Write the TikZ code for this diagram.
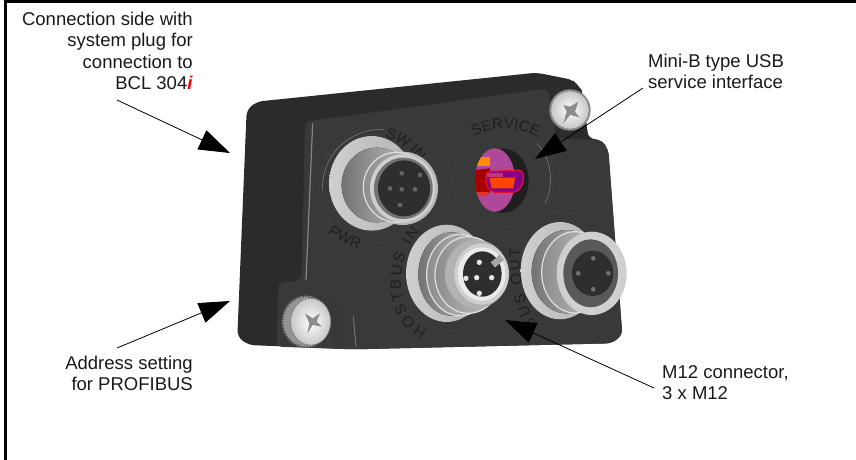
\documentclass[tikz,border=0pt]{standalone}
\usepackage{fontspec}
\setmainfont{Liberation Sans}
\usepackage{xcolor}
\usetikzlibrary{arrows.meta, decorations.text}
\definecolor{bodyside}{HTML}{2B2B2B}
\definecolor{bodyface}{HTML}{393939}
\definecolor{rimlight}{HTML}{CFCFCD}
\definecolor{barrel}{HTML}{8A8A8A}
\definecolor{pinkhole}{HTML}{B0489A}
\definecolor{usbred}{HTML}{E2102C}
\newcommand{\panelfont}{\fontsize{15}{15}\selectfont\color{black!88}}
\begin{document}
\begin{tikzpicture}[x=1pt, y=-1pt,
    caption/.style={font=\fontsize{18.5}{21.2}\selectfont, inner sep=0pt, text=black!90},
    callout/.style={-{Triangle[length=31pt, width=21pt]}, line width=0.8pt},
    frameline/.style={line width=3pt, black},
    ringline/.style={line width=0.7pt, black!75},
    ringshine/.style={line width=0.5pt, black!50},
    flange/.style={draw=none, left color=rimlight, right color=black!30},
    cone/.style={draw=none, left color=black!55, right color=black!25},
    groove/.style={draw=black!12, line width=1.2pt, left color=black!45, right color=black!22},
    tip/.style={draw=none, fill=rimlight},
    pin/.style={draw=none, fill=white!90!black},
    socket/.style={draw=none, fill=black!82},
    screwhead/.style={draw=black!45, line width=0.5pt, inner color=white, outer color=black!22},
    screwcross/.style={draw=none, fill=black!45}
  ]
  \useasboundingbox (0,0) rectangle (856,460);
  % Frame, only top and left
  \coordinate (FrameTR) at (856,2);
  \coordinate (FrameTL) at (5,2);
  \coordinate (FrameBL) at (5,460);
  \draw[frameline] (FrameTR) -- (FrameTL) -- (FrameBL);

  % Device, drawn in units of a third of a pixel
  \begin{scope}[shift={(220,60)}, xscale=1/3, yscale=1/3]
    % Housing
    \fill[bodyside, rounded corners=6pt] (80,150) -- (110,125) -- (950,38) -- (1060,60) -- (1085,90) -- (1105,235)
      -- (1145,240) -- (1165,270) -- (1207,825) -- (1175,850) -- (400,868) -- (85,855)
      -- (52,830) -- cycle;
    \fill[bodyface, rounded corners=5pt] (255,185) -- (985,85) -- (1010,235) -- (1145,240)
      -- (1165,270) -- (1207,825) -- (1175,850) -- (400,868) -- (170,860) -- (175,668)
      -- (245,660) -- cycle;
    \shade[left color=black!78, right color=bodyface] (335,700) -- (395,780) -- (405,866) -- (340,866) -- cycle;
    \fill[bodyside] (985,85) -- (1060,62) -- (1085,90) -- (1105,235) -- (1010,235) -- cycle;
    \draw[black!48, line width=1.2pt] (278,190) -- (258,660);
    \draw[black!55, line width=1pt] (400,770) -- (408,860);

    % Panel rings and labels
    \draw[ringline] (490,198) .. controls (380,195) and (290,280) .. (297,390) .. controls (300,440) and (320,480) .. (345,505);
    \draw[ringshine] (490,208) .. controls (390,205) and (303,285) .. (308,390);
    \draw[ringline] (445,552) .. controls (490,552) and (570,525) .. (600,500);
    \draw[ringline] (745,240) .. controls (690,290) and (680,400) .. (730,450);
    \draw[ringline] (960,245) .. controls (1010,300) and (1010,380) .. (985,435);
    \draw[ringshine] (950,250) .. controls (1000,300) and (1000,380) .. (975,430);
    \draw[ringline] (790,500) .. controls (850,510) and (930,490) .. (975,450);
    \draw[ringline] (640,465) .. controls (670,460) and (700,462) .. (725,475);
    \draw[ringline] (830,540) .. controls (850,530) and (870,525) .. (890,525);
    \draw[ringline] (1000,460) .. controls (1050,450) and (1110,470) .. (1140,500);
    \draw[ringline] (630,815) .. controls (680,820) and (730,805) .. (770,775);
    \draw[ringline] (945,790) .. controls (990,815) and (1050,810) .. (1110,785);
    \path[decorate, decoration={text along path, text align=center,
      text={|\panelfont|SERVICE}}]
      (745,245) .. controls (800,192) and (900,192) .. (970,245);
    \path[decorate, decoration={text along path, text align=left,
      text={|\panelfont|SW IN}}]
      (495,232) .. controls (530,240) and (570,265) .. (610,320);
    \path[decorate, decoration={text along path, text align=center,
      text={|\panelfont|PWR}}]
      (312,510) .. controls (340,535) and (390,560) .. (430,572);

    % Connector SW IN / PWR
    \fill[flange] (455,370) ellipse (128 and 142);
    \fill[cone] (470,375) ellipse (105 and 112);
    \fill[black!28] (548,385) ellipse (106 and 110);
    \fill[groove] (530,382) ellipse (100 and 105);
    \fill[tip] (548,385) ellipse (98 and 102);
    \fill[black!55] (550,385) ellipse (88 and 92);
    \fill[socket] (552,385) ellipse (78 and 84);
    \foreach \pinx/\piny in {545/340, 600/345, 510/385, 545/388, 585/388, 540/435}
      \fill[black!60] (\pinx,\piny) circle (7);

    % Service opening
    \fill[black!88] (848,362) ellipse (78 and 97);
    \fill[pinkhole] (825,360) ellipse (60 and 95);
    \begin{scope}
      \clip (825,360) ellipse (60 and 95);
      \fill[orange!90!yellow] (770,290) rectangle (810,318);
      \fill[red!65!black] (760,330) -- (810,325) -- (810,398) -- (760,395) -- cycle;
      \fill[usbred!70!orange] (770,396) rectangle (805,408);
    \end{scope}
    \fill[violet!70!magenta!80!black, draw=usbred, line width=1.3pt, rounded corners=4pt]
      (798,335) -- (908,330) -- (912,365) -- (892,397) -- (815,397) -- (798,375) -- cycle;
    \fill[pinkhole!70!usbred] (800,338) -- (850,338) -- (850,352) -- (800,352) -- cycle;
    \fill[orange!55!red] (808,353) -- (885,353) -- (880,385) -- (815,385) -- cycle;

    % Connector HOSTBUS IN
    \fill[flange] (680,640) ellipse (122 and 146);
    \fill[cone] (695,642) ellipse (100 and 125);
    \fill[groove] (720,645) ellipse (100 and 122);
    \fill[groove] (745,645) ellipse (100 and 115);
    \fill[black!30] (770,642) ellipse (95 and 102);
    \fill[tip] (785,642) ellipse (82 and 92);
    \fill[white!92!black] (785,642) ellipse (72 and 80);
    \fill[socket] (787,642) ellipse (58 and 68);
    \foreach \pinx/\piny in {778/607, 738/655, 770/653, 815/653, 778/700}
      \fill[pin] (\pinx,\piny) circle (8);
    \fill[black!35, rotate around={40:(830,605)}] (815,595) rectangle (850,615);

    % Connector BUS OUT
    \fill[flange] (1020,632) ellipse (118 and 146);
    \fill[cone] (1040,635) ellipse (105 and 125);
    \fill[groove] (1065,637) ellipse (100 and 122);
    \fill[tip] (1115,640) ellipse (105 and 125);
    \fill[black!18] (1115,640) ellipse (92 and 112);
    \fill[black!65] (1112,640) ellipse (82 and 102);
    \fill[socket] (1118,640) ellipse (62 and 68);
    \foreach \pinx/\piny in {1120/595, 1075/640, 1165/640, 1120/688}
      \fill[black!55] (\pinx,\piny) circle (7);

    % Labels between the connectors
    \path[decorate, decoration={text along path, text align=fit to path,
      text={|\panelfont|HOSTBUS IN}}]
      (622,812) .. controls (525,770) and (515,610) .. (600,515);
    \path[decorate, decoration={text along path, text align=fit to path,
      text={|\panelfont|BUS OUT}}]
      (952,795) .. controls (910,740) and (898,650) .. (900,565);

    % Screws
    \fill[black!45] (1050,150) circle (62);
    \fill[screwhead] (1050,150) circle (57);
    \fill[screwcross] (1030,135) -- (1050,140) -- (1075,125) -- (1065,155) -- (1078,172) -- (1050,165) -- (1030,190) -- (1040,155) -- cycle;
    \fill[black!42] (258,785) ellipse (72 and 78);
    \draw[black!70, line width=1.5pt, dash pattern=on 1.5pt off 1.5pt] (258,785) ellipse (70 and 76);
    \fill[screwhead] (272,785) ellipse (60 and 70);
    \fill[screwcross] (255,760) -- (278,775) -- (300,760) -- (290,785) -- (305,800) -- (278,795) -- (262,820) -- (268,790) -- cycle;
  \end{scope}

  % Captions
  \node[caption, align=right, anchor=north east] (sideLabel) at (193,12)
    {Connection side with\\system plug for\\connection to\\BCL 304\textcolor{red}{\textbf{\textit{i}}}};
  \node[caption, align=right, anchor=north east] (addressLabel) at (193,356)
    {Address setting\\for PROFIBUS};
  \node[caption, align=left, anchor=north west] (usbLabel) at (648,54)
    {Mini-B type USB\\service interface};
  \node[caption, align=left, anchor=north west] (m12Label) at (662,365)
    {M12 connector,\\3 x M12};

  % Arrows
  \coordinate (sideStart) at (117,100);
  \coordinate (sideTip) at (230,153);
  \coordinate (addressStart) at (117,348);
  \coordinate (addressTip) at (230,301);
  \coordinate (usbStart) at (643,88);
  \coordinate (usbTip) at (535,159);
  \coordinate (m12Start) at (654,388);
  \coordinate (m12Tip) at (505,320);
  \draw[callout] (sideStart) -- (sideTip);
  \draw[callout] (addressStart) -- (addressTip);
  \draw[callout] (usbStart) -- (usbTip);
  \draw[callout] (m12Start) -- (m12Tip);
\end{tikzpicture}
\end{document}
